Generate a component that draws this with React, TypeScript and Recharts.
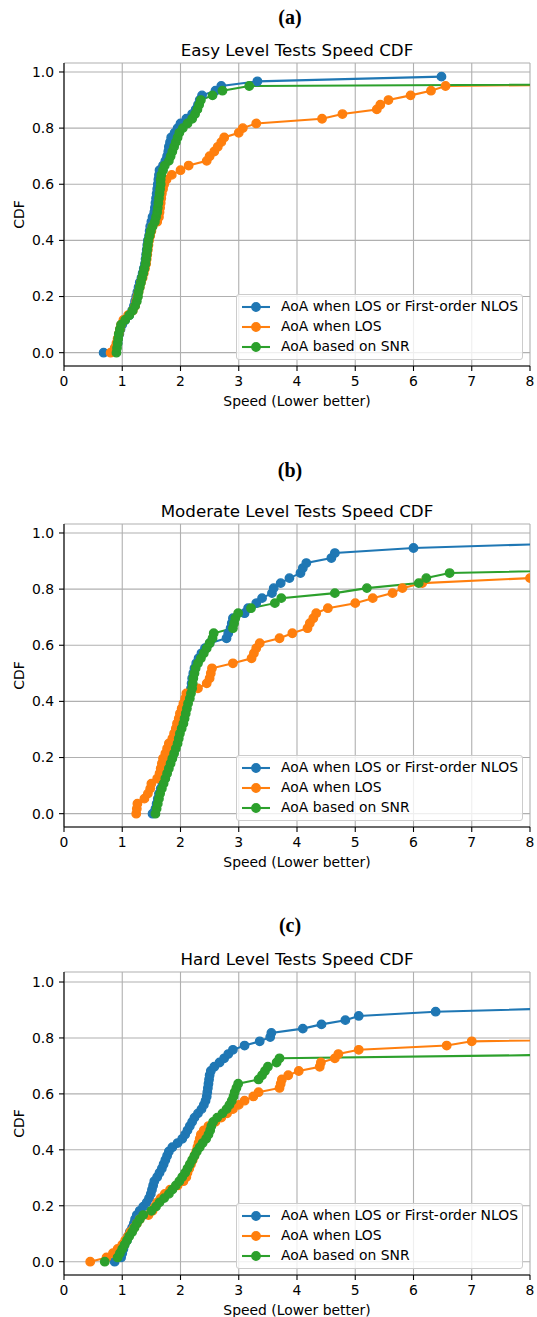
import { LineChart, Line, XAxis, YAxis, CartesianGrid, Legend } from 'recharts';

// speed samples per method, sorted (a few tails run past x = 8)
const easyLosNlos = [
  0.68, 0.88, 0.92, 0.93, 0.95, 0.97, 1.0, 1.05, 1.12, 1.17,
  1.2, 1.22, 1.24, 1.26, 1.28, 1.3, 1.33, 1.35, 1.37, 1.39,
  1.4, 1.41, 1.42, 1.43, 1.44, 1.46, 1.47, 1.48, 1.5, 1.52,
  1.55, 1.56, 1.57, 1.58, 1.59, 1.6, 1.61, 1.62, 1.63, 1.64,
  1.7, 1.74, 1.77, 1.79, 1.8, 1.82, 1.84, 1.9, 1.95, 2.0,
  2.1, 2.2, 2.26, 2.3, 2.33, 2.37, 2.6, 2.7, 3.32, 6.48,
];
const easyLos = [
  0.8, 0.87, 0.9, 0.92, 0.94, 0.96, 0.98, 1.02, 1.1, 1.18,
  1.22, 1.24, 1.26, 1.28, 1.3, 1.32, 1.35, 1.37, 1.39, 1.41,
  1.42, 1.43, 1.44, 1.45, 1.46, 1.48, 1.5, 1.52, 1.6, 1.63,
  1.64, 1.65, 1.66, 1.67, 1.68, 1.7, 1.72, 1.76, 1.85, 2.0,
  2.14, 2.45, 2.5, 2.58, 2.64, 2.7, 2.75, 3.0, 3.07, 3.3,
  4.43, 4.78, 5.37, 5.43, 5.57, 5.95, 6.3, 6.55, 14, 20,
];
const easySnr = [
  0.9, 0.91, 0.92, 0.93, 0.94, 0.96, 0.98, 1.05, 1.12, 1.18,
  1.22, 1.25, 1.27, 1.28, 1.3, 1.32, 1.34, 1.36, 1.38, 1.4,
  1.41, 1.42, 1.43, 1.44, 1.45, 1.47, 1.49, 1.52, 1.56, 1.58,
  1.6, 1.61, 1.62, 1.63, 1.64, 1.65, 1.66, 1.66, 1.67, 1.7,
  1.73, 1.8, 1.83, 1.86, 1.89, 1.92, 1.95, 1.98, 2.04, 2.12,
  2.2, 2.25, 2.29, 2.32, 2.35, 2.55, 2.72, 3.18, 19, 25,
];

const modLosNlos = [
  1.52, 1.57, 1.59, 1.61, 1.63, 1.66, 1.69, 1.72, 1.75, 1.78,
  1.81, 1.84, 1.87, 1.9, 1.93, 1.95, 1.97, 2.0, 2.03, 2.05,
  2.07, 2.09, 2.11, 2.14, 2.16, 2.18, 2.19, 2.2, 2.22, 2.24,
  2.27, 2.31, 2.36, 2.42, 2.5, 2.79, 2.82, 2.86, 2.88, 2.9,
  3.1, 3.16, 3.3, 3.4, 3.57, 3.6, 3.72, 3.87, 4.06, 4.1,
  4.16, 4.59, 4.65, 6.0, 8.8, 11,
];
const modLos = [
  1.24, 1.25, 1.26, 1.38, 1.44, 1.48, 1.5, 1.6, 1.64, 1.66,
  1.68, 1.7, 1.74, 1.77, 1.8, 1.86, 1.89, 1.92, 1.94, 1.97,
  1.99, 2.02, 2.05, 2.08, 2.1, 2.3, 2.45, 2.5, 2.52, 2.54,
  2.9, 3.22, 3.26, 3.3, 3.36, 3.7, 3.92, 4.18, 4.22, 4.28,
  4.33, 4.53, 5.0, 5.3, 5.64, 5.81, 6.15, 8.0, 9.5, 11,
  12.5, 14, 16, 18, 21, 25,
];
const modSnr = [
  1.57, 1.59, 1.61, 1.63, 1.65, 1.68, 1.71, 1.74, 1.77, 1.8,
  1.83, 1.86, 1.89, 1.92, 1.95, 1.97, 1.99, 2.02, 2.05, 2.07,
  2.09, 2.11, 2.13, 2.16, 2.18, 2.2, 2.21, 2.22, 2.24, 2.26,
  2.3, 2.35, 2.4, 2.45, 2.5, 2.55, 2.57, 2.9, 2.92, 2.94,
  2.99, 3.21, 3.62, 3.73, 4.65, 5.2, 6.09, 6.22, 6.62, 10.5,
  13, 15, 17, 19, 22, 25,
];

const hardLosNlos = [
  0.87, 0.98, 1.0, 1.02, 1.04, 1.08, 1.1, 1.13, 1.17, 1.2,
  1.22, 1.25, 1.3, 1.36, 1.42, 1.46, 1.49, 1.51, 1.53, 1.55,
  1.6, 1.64, 1.68, 1.71, 1.74, 1.77, 1.8, 1.86, 1.95, 2.03,
  2.08, 2.12, 2.16, 2.2, 2.24, 2.3, 2.36, 2.4, 2.43, 2.45,
  2.46, 2.47, 2.48, 2.49, 2.5, 2.52, 2.58, 2.67, 2.75, 2.82,
  2.9, 3.1, 3.36, 3.54, 3.56, 4.1, 4.42, 4.83, 5.06, 6.38,
  9.1, 11, 13, 15, 18, 22,
];
const hardLos = [
  0.45, 0.73, 0.84, 0.92, 1.0, 1.05, 1.1, 1.14, 1.2, 1.25,
  1.3, 1.45, 1.52, 1.56, 1.6, 1.66, 1.73, 1.82, 1.95, 2.05,
  2.1, 2.12, 2.15, 2.18, 2.21, 2.24, 2.27, 2.29, 2.31, 2.33,
  2.35, 2.4, 2.48, 2.6, 2.7, 2.8, 2.9, 3.0, 3.1, 3.25,
  3.34, 3.7, 3.72, 3.74, 3.85, 4.03, 4.39, 4.41, 4.65, 4.71,
  5.06, 6.57, 7.0, 12, 14, 16, 18, 20, 22, 24,
  26, 28, 30, 33, 36, 40,
];
const hardSnr = [
  0.7, 0.92, 0.96, 1.0, 1.04, 1.08, 1.12, 1.17, 1.21, 1.25,
  1.3, 1.36, 1.5, 1.58, 1.64, 1.72, 1.8, 1.86, 1.92, 1.98,
  2.03, 2.08, 2.12, 2.16, 2.2, 2.24, 2.28, 2.33, 2.38, 2.44,
  2.48, 2.51, 2.53, 2.56, 2.63, 2.72, 2.79, 2.84, 2.88, 2.91,
  2.93, 2.96, 2.99, 3.34, 3.4, 3.45, 3.5, 3.65, 3.7, 9.5,
  11, 13, 15, 17, 19, 21, 23, 25, 27, 29,
  31, 33, 35, 37, 40, 44,
];

const SERIES_NAMES = ['AoA when LOS or First-order NLOS', 'AoA when LOS', 'AoA based on SNR'];
const SERIES_COLORS = ['#1f77b4', '#ff7f0e', '#2ca02c'];
const SPEED_TICKS = [0, 1, 2, 3, 4, 5, 6, 7, 8];
const CDF_TICKS = [0, 0.2, 0.4, 0.6, 0.8, 1.0];

const FONT = '"DejaVu Sans", sans-serif';
const TICK_STYLE = { fontSize: 13.9, fill: '#000', fontFamily: FONT };

// empirical CDF from sorted samples
const toCdf = (samples: number[]) => samples.map((x, i) => ({ x, y: i / samples.length }));

const PANELS = [
  { tag: '(a)', title: 'Easy Level Tests Speed CDF', tagY: 18.3, titleY: 50, top: 53, yDomain: [-0.0475, 1.032], series: [easyLosNlos, easyLos, easySnr] },
  { tag: '(b)', title: 'Moderate Level Tests Speed CDF', tagY: 471.7, titleY: 510.7, top: 514, yDomain: [-0.0475, 1.032], series: [modLosNlos, modLos, modSnr] },
  { tag: '(c)', title: 'Hard Level Tests Speed CDF', tagY: 926.7, titleY: 959.3, top: 962, yDomain: [-0.0476, 1.0358], series: [hardLosNlos, hardLos, hardSnr] },
];

const PLOT_H = 303;
const CHART_H = 10 + PLOT_H + 50;

function CdfLegend() {
  return (
    <div
      style={{
        boxSizing: 'border-box',
        width: 287,
        height: 66,
        border: '1px solid #cccccc',
        borderRadius: 3,
        background: 'rgba(255,255,255,0.8)',
        padding: '2px 0 0 5px',
      }}
    >
      {SERIES_NAMES.map((name, i) => (
        <div key={name} style={{ display: 'flex', alignItems: 'center', height: 20.3 }}>
          <svg width={28} height={12} style={{ flex: 'none' }}>
            <line x1={0} y1={6} x2={28} y2={6} stroke={SERIES_COLORS[i]} strokeWidth={2.08} />
            <circle cx={14} cy={6} r={4.2} fill={SERIES_COLORS[i]} stroke={SERIES_COLORS[i]} strokeWidth={1.4} />
          </svg>
          <span style={{ marginLeft: 11, fontSize: 13.9, fontFamily: FONT, color: '#000', whiteSpace: 'nowrap', lineHeight: 1 }}>
            {name}
          </span>
        </div>
      ))}
    </div>
  );
}

export default function App() {
  return (
    <div style={{ position: 'absolute', left: 0, top: 0, width: 537, height: 1317, background: '#fff' }}>
      {PANELS.map((p) => (
        <div key={p.tag}>
          <div
            style={{
              position: 'absolute', left: 240, width: 100, top: p.tagY - 11.6, textAlign: 'center',
              fontFamily: '"Liberation Serif", serif', fontWeight: 'bold', fontSize: 20, lineHeight: '20px', color: '#000',
            }}
          >
            {p.tag}
          </div>
          <div
            style={{
              position: 'absolute', left: 97, width: 400, top: p.titleY - 8, textAlign: 'center',
              fontFamily: FONT, fontSize: 16.7, lineHeight: '16.7px', color: '#000', whiteSpace: 'nowrap',
            }}
          >
            {p.title}
          </div>
          <div style={{ position: 'absolute', left: 0, top: p.top }}>
            <LineChart width={537} height={CHART_H} margin={{ top: 10, right: 7, bottom: 0, left: 0 }} style={{ fontFamily: FONT }}>
              <CartesianGrid stroke="#b0b0b0" strokeWidth={1.1} />
              <XAxis
                dataKey="x"
                type="number"
                domain={[0, 8]}
                ticks={SPEED_TICKS}
                allowDataOverflow
                height={50}
                tickSize={5}
                tickMargin={5}
                tick={TICK_STYLE}
                tickLine={{ stroke: '#000', strokeWidth: 1.1 }}
                axisLine={{ stroke: '#000', strokeWidth: 1.1 }}
                label={{ value: 'Speed (Lower better)', position: 'insideBottom', offset: 10, style: { fontSize: 13.9, fill: '#000', fontFamily: FONT } }}
              />
              <XAxis
                xAxisId="top"
                orientation="top"
                dataKey="x"
                type="number"
                domain={[0, 8]}
                allowDataOverflow
                height={0}
                tick={false}
                tickLine={false}
                axisLine={{ stroke: '#000', strokeWidth: 1.1 }}
              />
              <YAxis
                type="number"
                domain={p.yDomain}
                ticks={CDF_TICKS}
                allowDataOverflow
                width={64}
                tickSize={5}
                tickMargin={5}
                tick={TICK_STYLE}
                tickFormatter={(v: number) => v.toFixed(1)}
                tickLine={{ stroke: '#000', strokeWidth: 1.1 }}
                axisLine={{ stroke: '#000', strokeWidth: 1.1 }}
                label={{ value: 'CDF', angle: -90, position: 'insideLeft', offset: 19.5, style: { textAnchor: 'middle', fontSize: 13.9, fill: '#000', fontFamily: FONT } }}
              />
              <YAxis
                yAxisId="right"
                orientation="right"
                type="number"
                domain={p.yDomain}
                allowDataOverflow
                width={0}
                tick={false}
                tickLine={false}
                axisLine={{ stroke: '#000', strokeWidth: 1.1 }}
              />
              {p.series.map((samples, i) => (
                <Line
                  key={SERIES_NAMES[i]}
                  data={toCdf(samples)}
                  dataKey="y"
                  name={SERIES_NAMES[i]}
                  type="linear"
                  stroke={SERIES_COLORS[i]}
                  strokeWidth={2.08}
                  dot={{ r: 4.2, fill: SERIES_COLORS[i], stroke: SERIES_COLORS[i], strokeWidth: 1.4 }}
                  activeDot={false}
                  isAnimationActive={false}
                />
              ))}
              <Legend
                layout="vertical"
                align="center"
                verticalAlign="middle"
                content={() => <CdfLegend />}
                wrapperStyle={{ left: 236, top: 10 + PLOT_H - 72.5, width: 287, height: 66 }}
              />
            </LineChart>
          </div>
        </div>
      ))}
    </div>
  );
}
